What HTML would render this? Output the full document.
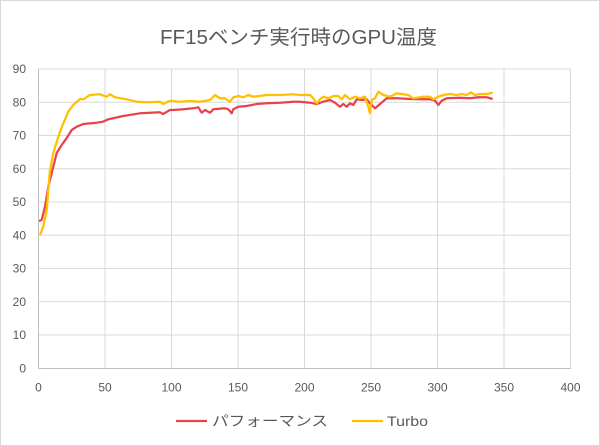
<!DOCTYPE html>
<html><head><meta charset="utf-8"><style>
html,body{margin:0;padding:0;background:#fff;}
svg{display:block;}
text{font-family:"Liberation Sans","Noto Sans CJK JP",sans-serif;fill:#595959;}
</style></head><body>
<svg width="600" height="446" viewBox="0 0 600 446" xmlns="http://www.w3.org/2000/svg">
<rect x="0.5" y="0.5" width="599" height="445" fill="#fff" stroke="#d9d9d9" stroke-width="1"/>
<text x="298.5" y="44" font-size="20" text-anchor="middle" textLength="277" lengthAdjust="spacingAndGlyphs">FF15ベンチ実行時のGPU温度</text>
<g stroke="#d9d9d9" stroke-width="1" fill="none">
<line x1="38.5" y1="69" x2="571" y2="69"/>
<line x1="38.5" y1="102.3" x2="571" y2="102.3"/>
<line x1="38.5" y1="135.5" x2="571" y2="135.5"/>
<line x1="38.5" y1="168.8" x2="571" y2="168.8"/>
<line x1="38.5" y1="202" x2="571" y2="202"/>
<line x1="38.5" y1="235.3" x2="571" y2="235.3"/>
<line x1="38.5" y1="268.5" x2="571" y2="268.5"/>
<line x1="38.5" y1="301.8" x2="571" y2="301.8"/>
<line x1="38.5" y1="335" x2="571" y2="335"/>
<line x1="105" y1="69" x2="105" y2="368.5"/>
<line x1="171.5" y1="69" x2="171.5" y2="368.5"/>
<line x1="238" y1="69" x2="238" y2="368.5"/>
<line x1="304.5" y1="69" x2="304.5" y2="368.5"/>
<line x1="371" y1="69" x2="371" y2="368.5"/>
<line x1="437.5" y1="69" x2="437.5" y2="368.5"/>
<line x1="504" y1="69" x2="504" y2="368.5"/>
<line x1="570.5" y1="69" x2="570.5" y2="368.5"/>
</g>
<g stroke="#bfbfbf" stroke-width="1">
<line x1="38.5" y1="69" x2="38.5" y2="368.5"/>
<line x1="38.5" y1="368.5" x2="571" y2="368.5"/>
</g>
<g font-size="12" text-anchor="end">
<text x="26" y="73">90</text>
<text x="26" y="106.5">80</text>
<text x="26" y="139.7">70</text>
<text x="26" y="173">60</text>
<text x="26" y="206.2">50</text>
<text x="26" y="239.5">40</text>
<text x="26" y="272.7">30</text>
<text x="26" y="306">20</text>
<text x="26" y="339.2">10</text>
<text x="26" y="372.5">0</text>
</g>
<g font-size="12" text-anchor="middle">
<text x="38.5" y="391.5">0</text>
<text x="105" y="391.5">50</text>
<text x="171.5" y="391.5">100</text>
<text x="238" y="391.5">150</text>
<text x="304.5" y="391.5">200</text>
<text x="371" y="391.5">250</text>
<text x="437.5" y="391.5">300</text>
<text x="504" y="391.5">350</text>
<text x="570.5" y="391.5">400</text>
</g>
<polyline fill="none" stroke="#e8434b" stroke-width="2.25" stroke-linejoin="round" points="39,221 41.7,220 45,206.7 48.3,186.7 51.7,173 56.7,153 61.7,145 66.7,138 71.7,130 76.7,126.7 83.3,124 96.7,122.7 103,121.7 108.3,119.3 123.3,116 140,113.3 160,112.3 163,114 170,110 173.3,110 183.3,109.3 193.3,108.3 198.3,107.3 201.7,112.7 205,110 210,112.7 213.3,109.3 225,108.3 228.3,109.3 231.7,113.3 233.3,109.3 238.3,106.7 246.7,106 256.7,104 266.7,103.3 280,102.7 293.3,101.7 300,101.7 310,102.7 316.7,104 323.3,101.7 330,100 335,102.7 340,106.7 343.3,104 346.7,106.7 350,103.3 353.3,105 356.7,99.3 361.7,100 366.7,99.3 370,103.3 375,108.3 380,104 386.7,98.3 396.7,98.3 410,99 423.3,99.3 430,99.3 435,100.7 438.3,105 441.7,100.7 446.7,98.3 460,97.7 470,98.3 478.3,97.3 486.7,97.3 492.7,99"/>
<polyline fill="none" stroke="#ffc000" stroke-width="2.25" stroke-linejoin="round" points="40,235 43.3,226.7 46.7,210 48.3,190 50,170 53.3,153 58.3,136.7 63.3,123.3 68.3,111.7 73.3,105 80,99 83.3,99.3 90,95 100,94.3 106.7,96.7 110,94.3 115,97.3 126.7,99.3 136.7,101.7 146.7,102.3 160,101.7 163.3,104 170,100.7 180,101.7 190,101 200,101.7 210,100 215,95 220,98.3 225,98.3 230,101.7 233.3,97.3 238.3,96 243.3,97.3 248.3,95 253.3,96.7 266.7,95 280,95 293.3,94.3 300,95 310,95 313.3,98.3 316.7,103.3 320,99.3 323.3,96.7 328.3,98.3 333.3,96 338.3,96 341.7,99.3 345,95 350,99.3 355,96.7 360,98.3 365,96.7 368.3,106.7 370,113.3 371.7,100 375,98.3 378.3,91.7 383.3,95 390,96.7 396.7,93.3 408.3,95 413.3,98.3 423.3,96.7 430,96.7 433.3,99.3 438.3,96.7 443.3,95 450,94 456.7,95 461.7,94 466.7,95 470.7,92.3 475,95 480,94 486.7,94 492.7,92.7"/>
<line x1="176" y1="421" x2="207" y2="421" stroke="#e8434b" stroke-width="2.25"/>
<text x="212" y="426" font-size="14" textLength="116" lengthAdjust="spacingAndGlyphs">パフォーマンス</text>
<line x1="352" y1="421" x2="383" y2="421" stroke="#ffc000" stroke-width="2.25"/>
<text x="387" y="426" font-size="14" textLength="41" lengthAdjust="spacingAndGlyphs">Turbo</text>
</svg>
</body></html>
